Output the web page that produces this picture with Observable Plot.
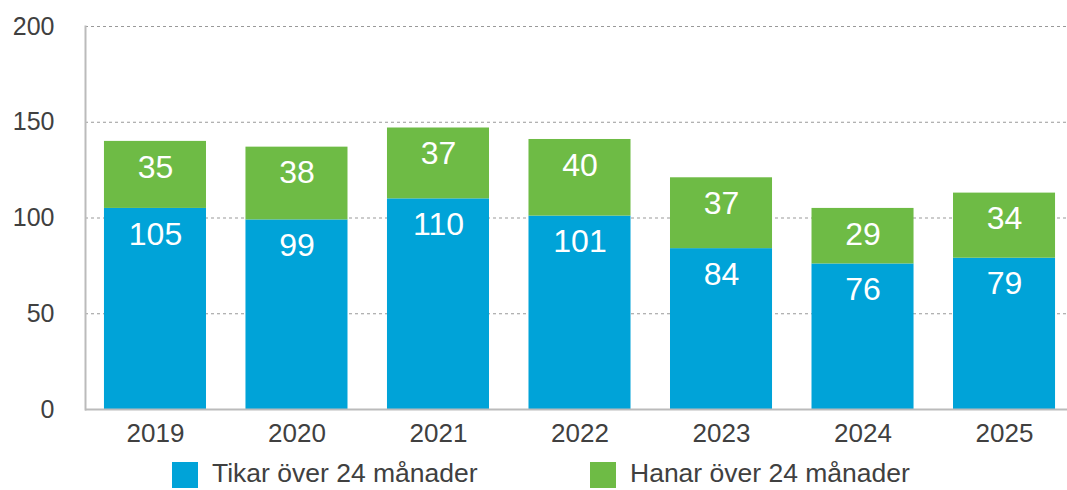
<!DOCTYPE html>
<html>
<head>
<meta charset="utf-8">
<script src="https://cdn.jsdelivr.net/npm/d3@7"></script>
<script src="https://cdn.jsdelivr.net/npm/@observablehq/plot@0.6"></script>
<style>
  body { margin: 0; background: #fff; font-family: "Liberation Sans", Arial, sans-serif; }
  #wrap { position: relative; width: 1067px; }
  .legend { position: relative; height: 40px; }
  .sw { position: absolute; top: 12px; width: 26px; height: 26px; }
  .lt { position: absolute; top: 8px; font-size: 26.5px; color: #404040; white-space: nowrap; }
</style>
</head>
<body>
<div id="wrap"></div>
<script>
const years = ["2019", "2020", "2021", "2022", "2023", "2024", "2025"];
const seriesNames = ["Tikar över 24 månader", "Hanar över 24 månader"];
const tikar = [105, 99, 110, 101, 84, 76, 79];
const hanar = [35, 38, 37, 40, 37, 29, 34];
const colors = ["#00A3D8", "#6EBB45"];
const yTicks = [0, 50, 100, 150, 200];

const data = [];
years.forEach((yr, i) => data.push({year: yr, series: seriesNames[0], value: tikar[i]}));
years.forEach((yr, i) => data.push({year: yr, series: seriesNames[1], value: hanar[i]}));

const chart = Plot.plot({
  width: 1067,
  height: 450,
  marginLeft: 85,
  marginRight: 0,
  marginTop: 26,
  marginBottom: 41,
  style: { fontFamily: "Liberation Sans, Arial, sans-serif", fontSize: "25px", color: "#404040", background: "#fff", overflow: "hidden" },
  x: { domain: years, range: [85, 1074], round: false, paddingInner: 0.279, paddingOuter: 0.134, label: null },
  y: { domain: [0, 200], label: null },
  color: { domain: seriesNames, range: colors },
  marks: [
    Plot.gridY(yTicks.filter(d => d > 0), { stroke: "#999", strokeOpacity: 1, strokeDasharray: "3,3", strokeWidth: 1 }),
    Plot.barY(data, { x: "year", y: "value", fill: "series", order: seriesNames }),
    Plot.text(data, Plot.stackY2({ x: "year", y: "value", z: "series", order: seriesNames, text: d => String(d.value), fill: "#fff", fontSize: 32, dy: 26, lineAnchor: "middle", fontWeight: 300 })),
    Plot.frame({ anchor: "left", stroke: "#bbb", strokeWidth: 2 }),
    Plot.ruleY([0], { stroke: "#bbb", strokeWidth: 2 }),
    Plot.axisY(yTicks, { tickSize: 0, tickPadding: 31, fontSize: 25, fill: "#404040" }),
    Plot.axisX({ tickSize: 0, tickPadding: 14, fontSize: 26, fill: "#404040" })
  ]
});
document.getElementById("wrap").appendChild(chart);

const legend = document.createElement("div");
legend.className = "legend";
const lx = [[172, 212], [590, 630]];
seriesNames.forEach((name, i) => {
  const sw = document.createElement("div");
  sw.className = "sw";
  sw.style.left = lx[i][0] + "px";
  sw.style.background = colors[i];
  const t = document.createElement("div");
  t.className = "lt";
  t.style.left = lx[i][1] + "px";
  t.textContent = name;
  legend.appendChild(sw);
  legend.appendChild(t);
});
document.getElementById("wrap").appendChild(legend);
</script>
</body>
</html>
